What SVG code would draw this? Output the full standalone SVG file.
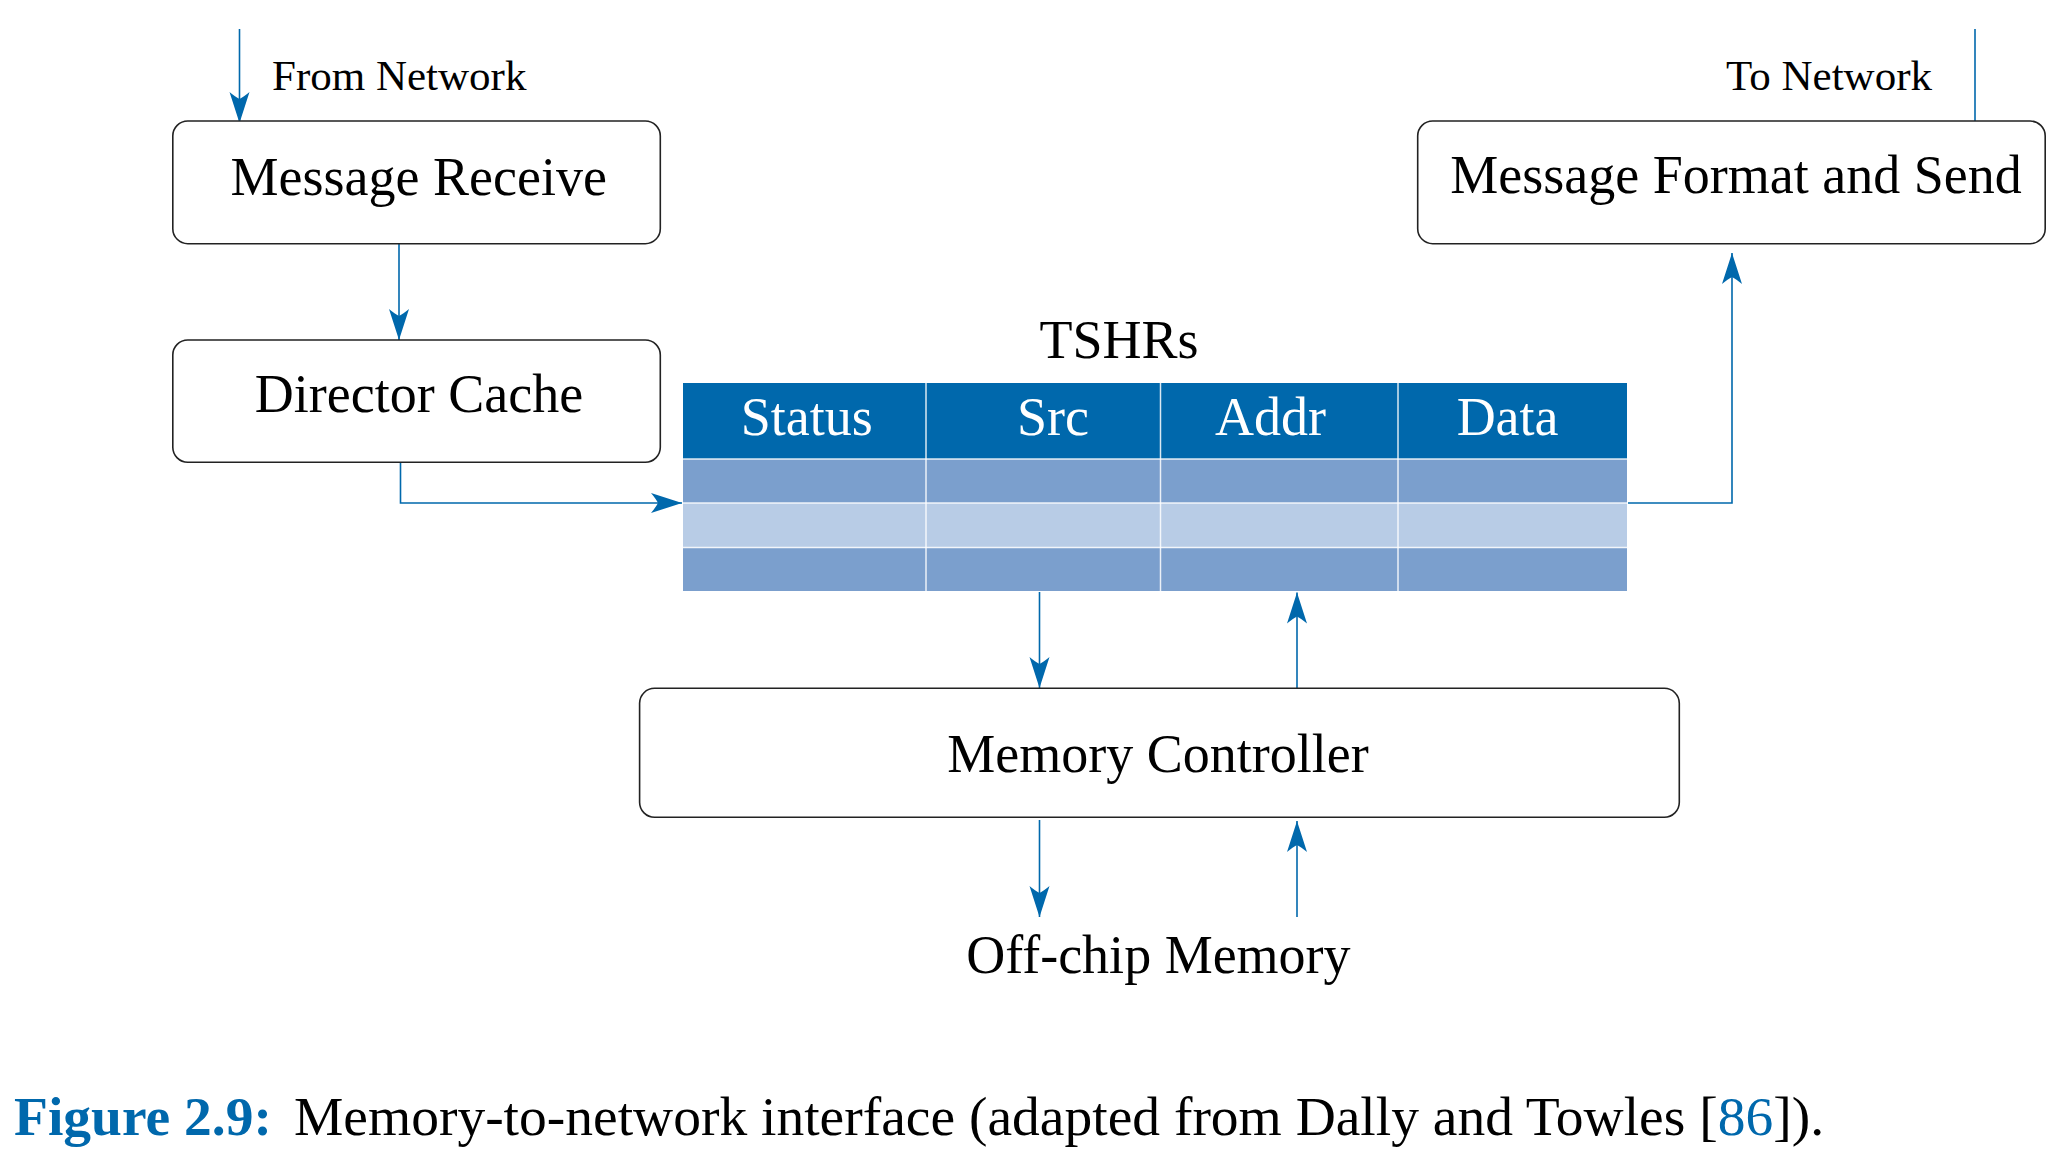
<svg xmlns="http://www.w3.org/2000/svg" width="2059" height="1165" viewBox="0 0 2059 1165">
<style>
.box{fill:#fff;stroke:#222;stroke-width:1.6}
.lbl{font-family:"Liberation Serif","DejaVu Serif",serif;font-size:54px;fill:#000;text-anchor:middle}
.sm{font-family:"Liberation Serif","DejaVu Serif",serif;font-size:43px;fill:#000}
.hdr{font-family:"Liberation Serif","DejaVu Serif",serif;font-size:54px;fill:#fff;text-anchor:middle}
.con{fill:none;stroke:#0068AC;stroke-width:1.6}
.cap{font-family:"Liberation Serif","DejaVu Serif",serif;font-size:55.5px;fill:#000}
.grid{stroke:#fff;stroke-width:1.5;opacity:0.85}
</style>
<defs>
<marker id="ah" markerUnits="userSpaceOnUse" orient="auto" refX="0" refY="0" markerWidth="40" markerHeight="30" overflow="visible">
<path d="M0,0 L-31,-10 Q-26,-4 -24,0 Q-26,4 -31,10 Z" fill="#0068AC"/>
</marker>
</defs>
<rect width="2059" height="1165" fill="#fff"/>

<g id="connectors">
<path class="con" d="M239.5,29 V123" marker-end="url(#ah)"/>
<path class="con" d="M399,244 V340" marker-end="url(#ah)"/>
<path class="con" d="M400.5,462 V503 H682" marker-end="url(#ah)"/>
<path class="con" d="M1628,503 H1732 V253" marker-end="url(#ah)"/>
<path class="con" d="M1975,126 V29"/>
<path class="con" d="M1039.5,592 V688" marker-end="url(#ah)"/>
<path class="con" d="M1297,688 V592.5" marker-end="url(#ah)"/>
<path class="con" d="M1039.5,820 V917" marker-end="url(#ah)"/>
<path class="con" d="M1297,917 V821" marker-end="url(#ah)"/>
</g>

<g id="from-network">
<text class="sm" x="272" y="90">From Network</text>
</g>
<g id="to-network">
<text class="sm" x="1932" y="90" text-anchor="end">To Network</text>
</g>

<g id="message-receive">
<rect class="box" x="172.8" y="121" width="487.5" height="122.7" rx="15" ry="15"/>
<text class="lbl" x="418.7" y="195">Message Receive</text>
</g>

<g id="director-cache">
<rect class="box" x="172.8" y="340" width="487.5" height="122.3" rx="15" ry="15"/>
<text class="lbl" x="419" y="411.7">Director Cache</text>
</g>

<g id="message-format-send">
<rect class="box" x="1417.7" y="121" width="627.5" height="122.7" rx="15" ry="15"/>
<text class="lbl" x="1736" y="193.3">Message Format and Send</text>
</g>

<g id="tshrs">
<text class="lbl" x="1119" y="358">TSHRs</text>
<rect x="683" y="383" width="944" height="76" fill="#0068AC"/>
<rect x="683" y="459" width="944" height="44" fill="#7B9FCD"/>
<rect x="683" y="503" width="944" height="44.5" fill="#B8CCE6"/>
<rect x="683" y="547.5" width="944" height="43.5" fill="#7B9FCD"/>
<line class="grid" x1="683" y1="459" x2="1627" y2="459"/>
<line class="grid" x1="683" y1="503" x2="1627" y2="503"/>
<line class="grid" x1="683" y1="547.5" x2="1627" y2="547.5"/>
<line class="grid" x1="926" y1="383" x2="926" y2="591"/>
<line class="grid" x1="1160.5" y1="383" x2="1160.5" y2="591"/>
<line class="grid" x1="1398" y1="383" x2="1398" y2="591"/>
<text class="hdr" x="806.8" y="435">Status</text>
<text class="hdr" x="1053" y="435">Src</text>
<text class="hdr" x="1270.6" y="435">Addr</text>
<text class="hdr" x="1507.6" y="435">Data</text>
</g>

<g id="memory-controller">
<rect class="box" x="639.6" y="688.3" width="1039.7" height="129" rx="15" ry="15"/>
<text class="lbl" x="1158" y="771.7">Memory Controller</text>
</g>

<g id="off-chip-memory">
<text class="lbl" x="1158.4" y="973.3">Off-chip Memory</text>
</g>

<g id="caption">
<text class="cap" x="14" y="1135" font-weight="bold" style="fill:#0068AC">Figure 2.9:</text>
<text class="cap" x="294" y="1135">Memory-to-network interface (adapted from Dally and Towles [<tspan style="fill:#0068AC">86</tspan>]).</text>
</g>
</svg>
